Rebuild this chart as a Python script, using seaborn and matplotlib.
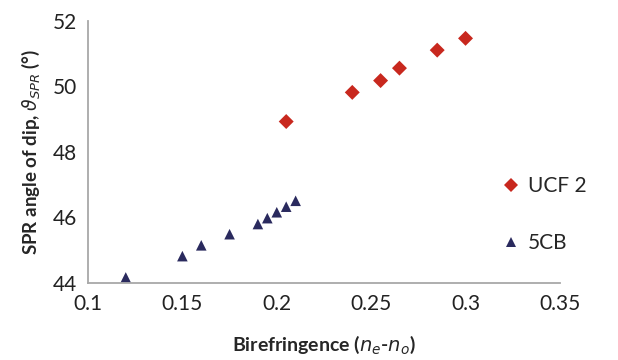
import numpy as np
import pandas as pd
import matplotlib
matplotlib.use("Agg")
import matplotlib.pyplot as plt
import seaborn as sns

# Data
ucf2_x = [0.205, 0.24, 0.255, 0.265, 0.285, 0.30]
ucf2_y = [48.93, 49.82, 50.18, 50.56, 51.11, 51.47]
cb5_x = [0.12, 0.15, 0.16, 0.175, 0.19, 0.195, 0.20, 0.205, 0.21]
cb5_y = [44.17, 44.82, 45.15, 45.49, 45.80, 45.98, 46.16, 46.33, 46.51]
series = ["UCF 2", "5CB"]
x_ticks = [0.1, 0.15, 0.2, 0.25, 0.3, 0.35]
y_ticks = [44, 46, 48, 50, 52]

df = pd.DataFrame({
    "x": ucf2_x + cb5_x,
    "y": ucf2_y + cb5_y,
    "sample": ["UCF 2"] * len(ucf2_x) + ["5CB"] * len(cb5_x),
})

sns.set_style("white")
plt.rcParams["font.family"] = ["Lato", "DejaVu Sans"]
plt.rcParams["mathtext.fontset"] = "dejavusans"

fig = plt.figure(figsize=(6.18, 3.6), dpi=100)
ax = fig.add_axes([0.1424, 0.2139, 0.906 - 0.1424, 0.9417 - 0.2139])

palette = {"UCF 2": "#C8281E", "5CB": "#2A2A5E"}
markers = {"UCF 2": "D", "5CB": "^"}
sns.scatterplot(data=df, x="x", y="y", hue="sample", style="sample",
                hue_order=series, style_order=series,
                palette=palette, markers=markers, s=58, linewidth=0, ax=ax)

ax.set_xlim(0.1, 0.35)
ax.set_ylim(44, 52)
ax.set_xticks(x_ticks)
ax.set_xticklabels(["0.1", "0.15", "0.2", "0.25", "0.3", "0.35"])
ax.set_yticks(y_ticks)
ax.tick_params(length=0, labelsize=15, colors="#222222", pad=8)

for side in ["top", "right"]:
    ax.spines[side].set_visible(False)
for side in ["left", "bottom"]:
    ax.spines[side].set_color("#A8A8A8")
    ax.spines[side].set_linewidth(1.3)

ax.set_xlabel(r"Birefringence ($n_e$-$n_o$)", fontsize=14, fontweight="bold", labelpad=14)
ax.set_ylabel(r"SPR angle of dip, $\vartheta_{SPR}$ (°)", fontsize=13.5, fontweight="bold", labelpad=8)

leg = ax.legend(loc="center left", bbox_to_anchor=(0.875, 0.261), frameon=False,
                fontsize=15, labelspacing=1.75, handlelength=1.0, handletextpad=0.3,
                borderaxespad=0, borderpad=0)

fig.savefig("out.png", dpi=100)
